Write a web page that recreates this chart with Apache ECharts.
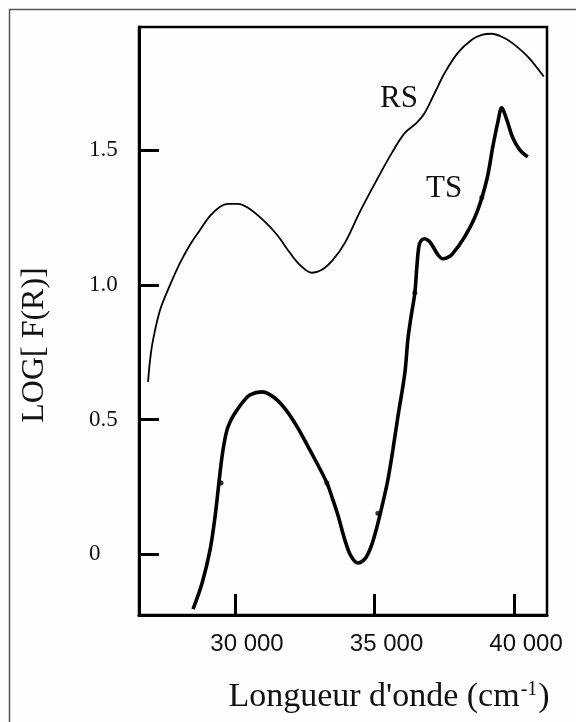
<!DOCTYPE html>
<html>
<head>
<meta charset="utf-8">
<script src="https://cdn.jsdelivr.net/npm/echarts@6/dist/echarts.min.js"></script>
<style>
  html, body { margin: 0; padding: 0; background: #fefefe; }
  #chart { width: 576px; height: 722px; }
</style>
</head>
<body>
<div id="chart"></div>
<script>
// Diffuse reflectance spectra: log F(R) against wavenumber (cm-1)
const rsWavenumber = [26885, 26957, 27064, 27315, 27673, 28031, 28389, 28747, 29105, 29463, 29749, 30107, 30465, 31002, 31504, 31969, 32327, 32757, 33115, 33508, 33938, 34475, 35084, 35621, 36086, 36516, 36802, 37160, 37518, 37983, 38485, 38843, 39201, 39559, 39917, 40489, 41062];
const rsLog        = [0.640, 0.722, 0.796, 0.907, 1.000, 1.082, 1.149, 1.204, 1.256, 1.290, 1.301, 1.301, 1.286, 1.241, 1.186, 1.119, 1.074, 1.045, 1.056, 1.093, 1.156, 1.271, 1.390, 1.490, 1.564, 1.602, 1.639, 1.713, 1.787, 1.861, 1.910, 1.928, 1.932, 1.921, 1.899, 1.847, 1.773];

const tsWavenumber = [28496, 28819, 29105, 29284, 29463, 29570, 29714, 29893, 30072, 30286, 30537, 30967, 31504, 32076, 32685, 33294, 33473, 33687, 33938, 34153, 34403, 34654, 34869, 35084, 35263, 35477, 35656, 35835, 36086, 36193, 36301, 36444, 36516, 36587, 36659, 36802, 36945, 37053, 37268, 37446, 37590, 37769, 38234, 38664, 39022, 39237, 39415, 39559, 39738, 39953, 40203, 40489];
const tsLog        = [-0.203, -0.107, 0.016, 0.139, 0.302, 0.387, 0.462, 0.506, 0.536, 0.566, 0.592, 0.603, 0.573, 0.499, 0.387, 0.265, 0.213, 0.146, 0.053, -0.006, -0.032, -0.017, 0.027, 0.101, 0.176, 0.276, 0.387, 0.510, 0.673, 0.796, 0.877, 0.971, 1.067, 1.141, 1.163, 1.171, 1.163, 1.149, 1.112, 1.097, 1.100, 1.112, 1.179, 1.268, 1.390, 1.512, 1.602, 1.657, 1.613, 1.546, 1.501, 1.475];

// measured points marked along the TS curve
const tsMarkWavenumber = [29500, 33294, 35120, 36444, 38843];
const tsMarkLog        = [0.265, 0.265, 0.153, 0.971, 1.324];

const xTicks = [30000, 35000, 40000];
const yTicks = [0, 0.5, 1.0, 1.5];

const zip = (xs, ys) => xs.map((x, i) => [x, ys[i]]);

const serif = 'Liberation Serif';
const sans = 'Liberation Sans';

const chart = echarts.init(document.getElementById('chart'), null, { renderer: 'canvas' });

chart.setOption({
  backgroundColor: '#fefefe',
  animation: false,
  grid: {
    left: 139, right: 29, top: 27, bottom: 107,
    show: true, borderColor: '#000', borderWidth: 2.5, backgroundColor: 'transparent'
  },
  xAxis: {
    type: 'value',
    min: 26560, max: 41180,
    splitLine: { show: false },
    axisLine: { onZero: false, lineStyle: { color: '#000', width: 3 } },
    axisTick: { show: true, inside: true, length: 21, customValues: xTicks, lineStyle: { color: '#000', width: 3 } },
    axisLabel: {
      customValues: xTicks,
      margin: 17,
      padding: [0, 0, 0, 24],
      fontFamily: sans, fontSize: 24, color: '#111',
      formatter: v => String(v).replace(/(\d+)(\d{3})$/, '$1 $2')
    },
    name: 'Longueur d\'onde (cm{sup|-1})',
    nameLocation: 'middle',
    nameGap: 65,
    nameTextStyle: {
      fontFamily: serif, fontSize: 34, color: '#111',
      padding: [0, 0, 0, 92],
      rich: {
        sup: { fontFamily: serif, fontSize: 20, color: '#111', verticalAlign: 'top', padding: [0, 1, 0, 1] }
      }
    }
  },
  yAxis: {
    type: 'value',
    min: -0.225, max: 1.957,
    splitLine: { show: false },
    axisLine: { onZero: false, lineStyle: { color: '#000', width: 3 } },
    axisTick: { show: true, inside: true, length: 20, customValues: yTicks, lineStyle: { color: '#000', width: 3 } },
    axisLabel: {
      customValues: yTicks,
      margin: 50,
      align: 'left',
      fontFamily: serif, fontSize: 23, color: '#111',
      formatter: v => (v === 0 ? '0' : v.toFixed(1))
    },
    name: 'LOG[ F(R)]',
    nameLocation: 'middle',
    nameRotate: 90,
    nameGap: 88,
    nameTextStyle: {
      fontFamily: serif, fontSize: 32, color: '#111',
      padding: [0, 48, 0, 0]
    }
  },
  series: [
    {
      name: 'RS',
      type: 'line',
      data: zip(rsWavenumber, rsLog),
      smooth: 0.35,
      showSymbol: false,
      lineStyle: { color: '#000', width: 1.8 }
    },
    {
      name: 'TS',
      type: 'line',
      data: zip(tsWavenumber, tsLog),
      smooth: 0.35,
      showSymbol: false,
      lineStyle: { color: '#000', width: 3.6 }
    },
    {
      name: 'TS points',
      type: 'scatter',
      data: zip(tsMarkWavenumber, tsMarkLog),
      symbol: 'circle',
      symbolSize: 5,
      itemStyle: { color: '#000' }
    }
  ],
  graphic: [
    {
      type: 'rect', silent: true, z: -1,
      shape: { x: 9.5, y: 9.5, width: 700, height: 800 },
      style: { fill: 'none', stroke: '#555', lineWidth: 1.5 }
    },
    {
      type: 'text', left: 380, top: 83,
      style: { text: 'RS', font: '31px "Liberation Serif"', fill: '#111' }
    },
    {
      type: 'text', left: 426, top: 173,
      style: { text: 'TS', font: '31px "Liberation Serif"', fill: '#111' }
    }
  ]
});
</script>
</body>
</html>
